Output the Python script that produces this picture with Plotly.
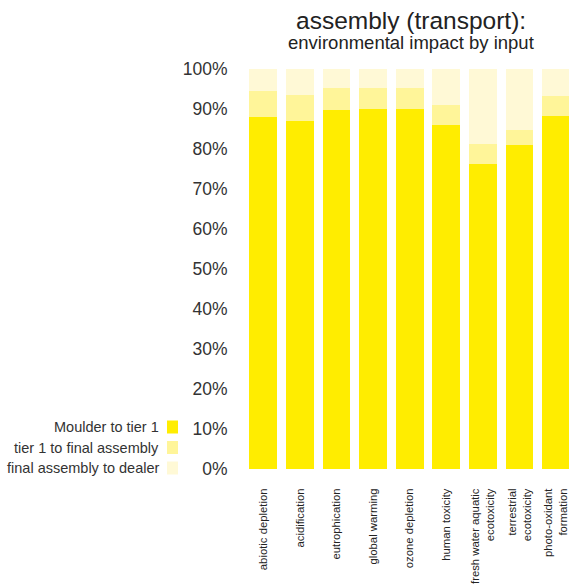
import plotly.graph_objects as go

W, H = 569, 586
LEFT, RIGHT, TOP, BOTTOM = 245, 0, 69, H - 469

categories = [
    "abiotic depletion", "acidification", "eutrophication", "global warming",
    "ozone depletion", "human toxicity", "fresh water aquatic<br>ecotoxicity",
    "terrestrial<br>ecotoxicity", "photo-oxidant<br>formation",
]
series_names = ["Moulder to tier 1", "tier 1 to final assembly", "final assembly to dealer"]
moulder = [88.0, 87.0, 89.8, 90.0, 90.0, 86.0, 76.3, 81.0, 88.3]
tier1 = [6.5, 6.5, 5.5, 5.3, 5.3, 5.0, 5.0, 3.8, 5.0]
dealer = [5.5, 6.5, 4.7, 4.7, 4.7, 9.0, 18.7, 15.2, 6.7]
colors = ["#ffed00", "#fff599", "#fff9d6"]

FONT = "Liberation Sans, Arial, sans-serif"

fig = go.Figure()
for name, vals, col in zip(series_names, [moulder, tier1, dealer], colors):
    fig.add_trace(go.Bar(
        x=list(range(len(categories))), y=vals, name=name,
        marker=dict(color=col, line=dict(width=0)),
        showlegend=False,
    ))

plot_w = W - LEFT - RIGHT
plot_h = H - TOP - BOTTOM


# pixel -> paper coordinates
def px_x(p):
    return (p - LEFT) / plot_w


def px_y(p):
    return (H - BOTTOM - p) / plot_h


# hand-made legend: text on the left, swatch on the right
for i, (name, col) in enumerate(zip(series_names, colors)):
    yc = 427 + i * 20.5
    fig.add_shape(type="rect", xref="paper", yref="paper",
                  x0=px_x(167), x1=px_x(178), y0=px_y(yc + 6.5), y1=px_y(yc - 6.5),
                  fillcolor=col, line=dict(width=0))
    fig.add_annotation(xref="paper", yref="paper", x=px_x(161), y=px_y(yc),
                       xanchor="right", yanchor="middle", text=name, showarrow=False,
                       font=dict(size=14.5, color="#333333", family=FONT))

fig.add_annotation(xref="paper", yref="paper", x=px_x(411), y=px_y(21),
                   xanchor="center", yanchor="middle", text="assembly (transport):",
                   showarrow=False, borderpad=0,
                   font=dict(size=24.5, color="#222222", family=FONT))
fig.add_annotation(xref="paper", yref="paper", x=px_x(411), y=px_y(42),
                   xanchor="center", yanchor="middle", text="environmental impact by input",
                   showarrow=False, borderpad=0,
                   font=dict(size=18.5, color="#222222", family=FONT))

unit = 36.6
fig.update_layout(
    width=W, height=H,
    margin=dict(l=LEFT, r=RIGHT, t=TOP, b=BOTTOM, pad=0),
    barmode="stack", bargap=0.24,
    plot_bgcolor="white", paper_bgcolor="white",
    font=dict(family=FONT, color="#333333"),
    xaxis=dict(
        tickmode="array", tickvals=list(range(len(categories))), ticktext=categories,
        tickangle=-90, tickfont=dict(size=11.3, color="#222222"),
        ticklabeloverflow="allow",
        range=[-0.5, -0.5 + plot_w / unit], showgrid=False, zeroline=False, showline=False,
        ticks="outside", ticklen=14, tickcolor="rgba(0,0,0,0)",
    ),
    yaxis=dict(
        range=[0, 100], tickvals=list(range(0, 101, 10)),
        ticktext=[f"{v}%" for v in range(0, 101, 10)],
        tickfont=dict(size=17.5, color="#333333"),
        showgrid=False, zeroline=False, showline=False,
        ticks="outside", ticklen=13, tickcolor="rgba(0,0,0,0)",
    ),
)

# drop the page's default body margin so the figure sits at the window corner
fig.write_html(
    "out.html",
    config={"displayModeBar": False},
    post_script="document.body.style.margin='0';document.body.style.overflow='hidden';",
)
